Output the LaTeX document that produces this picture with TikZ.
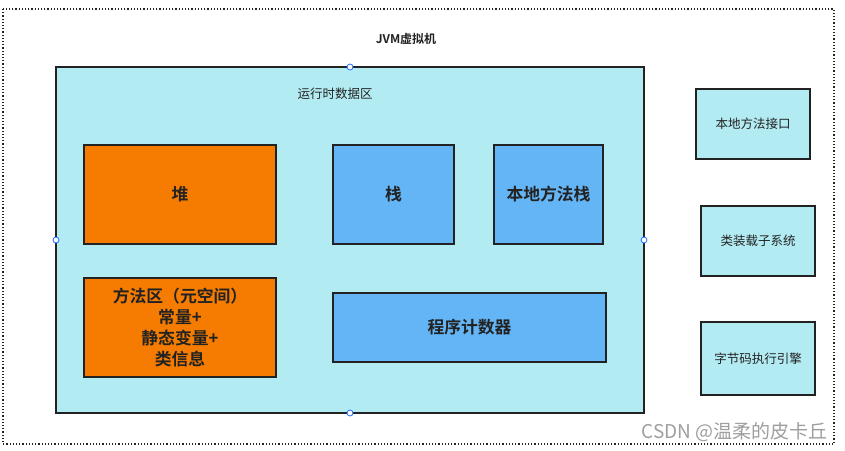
\documentclass[tikz,border=0pt]{standalone}
\usepackage{fontspec}
\usepackage{xcolor}
\usepackage{tikz}
\usetikzlibrary{positioning}
\setmainfont{Noto Sans CJK SC}[BoldFont={Noto Sans CJK SC Bold}]
\definecolor{linedark}{HTML}{222222}
\definecolor{cyanfill}{HTML}{B3EBF3}
\definecolor{heaporange}{HTML}{F57C00}
\definecolor{stackblue}{HTML}{64B5F6}
\definecolor{handleblue}{HTML}{1E6FFF}
\definecolor{markgray}{HTML}{9E9E9E}
\tikzset{
  areabox/.style={draw=linedark,line width=1.5pt,rectangle,inner sep=0pt,outer sep=0pt},
  bigtext/.style={font=\fontsize{16.8}{21}\selectfont\bfseries,text=linedark,align=center},
  smalltext/.style={font=\fontsize{12.5}{15}\selectfont,text=linedark},
  handle/.style={draw=handleblue,fill=white,line width=0.8pt}
}

\begin{document}
\begin{tikzpicture}[x=1pt,y=-1pt]
  \useasboundingbox (0,0) rectangle (845,450);
  % outer dotted frame
  \draw[dotted,line width=1.2pt,linedark] (3,9) rectangle (834,444);
  \node[smalltext,font=\fontsize{12}{14}\selectfont\bfseries] (jvm) at (406,39) {JVM虚拟机};
  % runtime data area
  \node[areabox,fill=cyanfill,minimum width=588,minimum height=346] (runtime) at (350,240) {};
  \node[smalltext] (runtimelabel) at (335,94) {运行时数据区};
  \node[areabox,fill=heaporange,minimum width=192,minimum height=99,bigtext] (heap) at (180,194.5) {堆};
  \node[areabox,fill=stackblue,minimum width=121,minimum height=99,bigtext] (stack) at (393.5,194.5) {栈};
  \node[areabox,fill=stackblue,minimum width=109,minimum height=99,bigtext] (nativestack) at (548.5,194.5) {本地方法栈};
  \node[areabox,fill=heaporange,minimum width=192,minimum height=99,bigtext] (methodarea) at (180,327.5)
    {方法区（元空间）\\常量+\\静态变量+\\类信息};
  \node[areabox,fill=stackblue,minimum width=273,minimum height=69,bigtext] (pc) at (469.5,327.5) {程序计数器};
  % selection handles
  \foreach \h in {north,south,east,west}
    \draw[handle] (runtime.\h) circle (3);
  % right column
  \node[areabox,fill=cyanfill,minimum width=114,minimum height=70,smalltext] (nativeiface) at (753,124) {本地方法接口};
  \node[areabox,fill=cyanfill,minimum width=114,minimum height=70,smalltext] (classloader) at (758,241) {类装载子系统};
  \node[areabox,fill=cyanfill,minimum width=114,minimum height=73,smalltext] (engine) at (758,358.5) {字节码执行引擎};
  % watermark
  \node[anchor=east,text=markgray,font=\fontsize{19}{21}\selectfont] (mark) at (831,432) {CSDN @温柔的皮卡丘};
\end{tikzpicture}
\end{document}
